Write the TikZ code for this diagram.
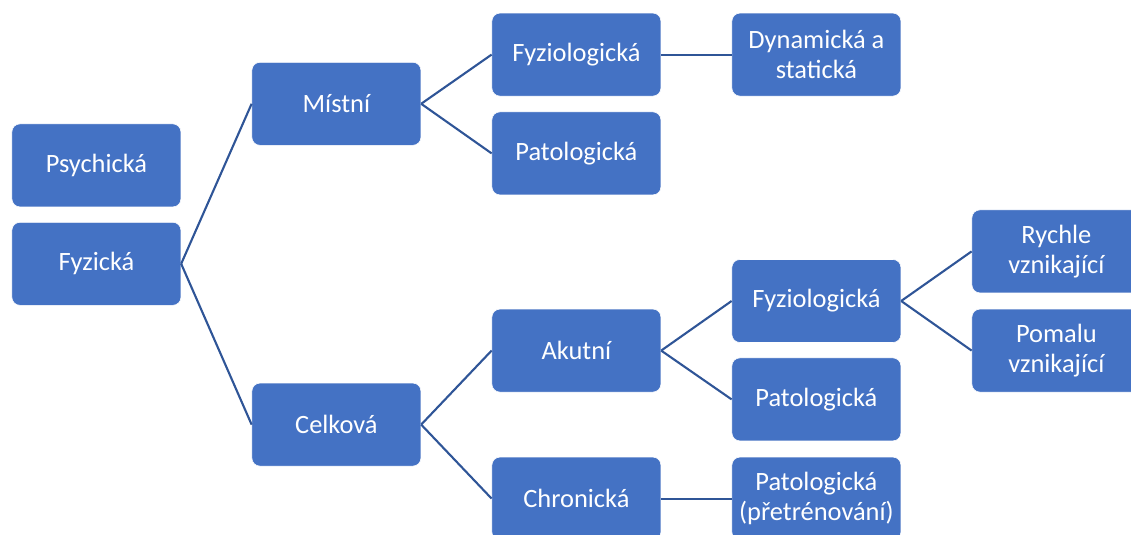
\documentclass[tikz,border=0pt]{standalone}
\usepackage{fontspec}
\setmainfont{Carlito}
\usepackage{xcolor}
\usepackage{tikz}
\definecolor{boxblue}{HTML}{4472C4}
\definecolor{linkblue}{HTML}{2F5597}
\tikzset{
  box/.style={draw=white, line width=0.4pt, fill=boxblue, rounded corners=0.2cm,
    minimum width=4.225cm, minimum height=2.075cm, inner sep=0pt, align=center,
    text=white, font=\fontsize{18.8}{21.5}\selectfont},
  link/.style={linkblue, line width=1.5pt}
}

\begin{document}
\begin{tikzpicture}
  \useasboundingbox (0,0) rectangle (28.275,13.375);
  \node[box] (psych) at (2.41,9.24) {Psychická};
  \node[box] (fyz) at (2.41,6.78) {Fyzická};
  \node[box] (mist) at (8.41,10.78) {Místní};
  \node[box] (celk) at (8.41,2.76) {Celková};
  \node[box] (mfyzio) at (14.41,12.01) {Fyziologická};
  \node[box] (mpato) at (14.41,9.54) {Patologická};
  \node[box] (dyn) at (20.41,12.01) {Dynamická a\\statická};
  \node[box] (akut) at (14.41,4.61) {Akutní};
  \node[box] (chron) at (14.41,0.91) {Chronická};
  \node[box] (afyzio) at (20.41,5.85) {Fyziologická};
  \node[box] (apato) at (20.41,3.39) {Patologická};
  \node[box] (cpato) at (20.41,0.91) {Patologická\\(přetrénování)};
  \node[box] (rych) at (26.41,7.09) {Rychle\\vznikající};
  \node[box] (pom) at (26.41,4.61) {Pomalu\\vznikající};
  \foreach \a/\b in {fyz/mist, fyz/celk, mist/mfyzio, mist/mpato, mfyzio/dyn,
                     celk/akut, celk/chron, akut/afyzio, akut/apato, chron/cpato,
                     afyzio/rych, afyzio/pom}
    \draw[link] (\a.east) -- (\b.west);
\end{tikzpicture}
\end{document}
